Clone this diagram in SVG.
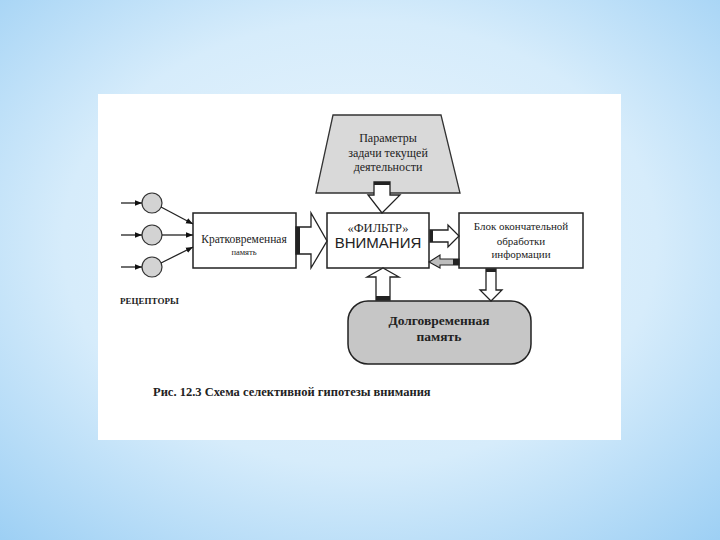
<svg xmlns="http://www.w3.org/2000/svg" width="720" height="540" viewBox="0 0 720 540">
<defs>
<radialGradient id="bg" cx="50%" cy="45%" r="75%">
<stop offset="0" stop-color="#eaf5fd"/>
<stop offset="0.55" stop-color="#d6ecfb"/>
<stop offset="1" stop-color="#9ccff4"/>
</radialGradient>
<marker id="ah" viewBox="0 0 10 10" refX="10" refY="5" markerWidth="7" markerHeight="7" orient="auto" markerUnits="userSpaceOnUse">
<path d="M0,1 L10,5 L0,9 Z" fill="#111"/>
</marker>
<style>
.box{fill:#fff;stroke:#222;stroke-width:1.5}
.blk{fill:#fff;stroke:#222;stroke-width:1.3}
.band{fill:#222}
.serif{font-family:"Liberation Serif","DejaVu Serif",serif;fill:#222}
.sans{font-family:"Liberation Sans","DejaVu Sans",sans-serif;fill:#222}
.line{stroke:#222;stroke-width:1.3;fill:none}
</style>
</defs>
<rect x="0" y="0" width="720" height="540" fill="url(#bg)"/>
<rect x="98" y="94" width="523" height="346" fill="#fff"/>

<g id="params">
<polygon points="333,115 441,115 460,193 316,193" fill="#d9d9d9" stroke="#333" stroke-width="1.3"/>
<text class="serif" x="388" y="142" font-size="12" text-anchor="middle">Параметры</text>
<text class="serif" x="388" y="157" font-size="12" text-anchor="middle">задачи текущей</text>
<text class="serif" x="388" y="171" font-size="12" text-anchor="middle">деятельности</text>
</g>

<g id="receptors">
<circle cx="152" cy="203" r="10" fill="#d3d3d3" stroke="#333" stroke-width="1.2"/>
<circle cx="152" cy="235" r="10" fill="#d3d3d3" stroke="#333" stroke-width="1.2"/>
<circle cx="152" cy="267" r="10" fill="#d3d3d3" stroke="#333" stroke-width="1.2"/>
<text class="serif" x="120" y="304" font-size="9" font-weight="bold">РЕЦЕПТОРЫ</text>
</g>

<g id="stm">
<rect class="box" x="193" y="213" width="103" height="55"/>
<text class="serif" x="244" y="243" font-size="11.5" text-anchor="middle">Кратковременная</text>
<text class="serif" x="244" y="255" font-size="8.5" text-anchor="middle">память</text>
</g>

<g id="filter">
<rect class="box" x="327" y="213" width="102" height="55"/>
<text class="serif" x="378" y="232" font-size="12.5" text-anchor="middle">«ФИЛЬТР»</text>
<text class="sans" x="378" y="248" font-size="15" text-anchor="middle">ВНИМАНИЯ</text>
</g>

<g id="final">
<rect class="box" x="459" y="213" width="124" height="55"/>
<text class="serif" x="521" y="230" font-size="11" text-anchor="middle">Блок окончательной</text>
<text class="serif" x="521" y="245" font-size="11" text-anchor="middle">обработки</text>
<text class="serif" x="521" y="258" font-size="11" text-anchor="middle">информации</text>
</g>

<g id="ltm">
<rect x="348" y="301" width="183" height="63" rx="20" ry="20" fill="#c6c6c6" stroke="#222" stroke-width="1.5"/>
<text class="serif" x="439" y="325" font-size="13.5" font-weight="bold" text-anchor="middle">Долговременная</text>
<text class="serif" x="439" y="341" font-size="13.5" font-weight="bold" text-anchor="middle">память</text>
</g>

<g id="connectors">
<line class="line" x1="121" y1="203" x2="142" y2="203" marker-end="url(#ah)"/>
<line class="line" x1="121" y1="235" x2="142" y2="235" marker-end="url(#ah)"/>
<line class="line" x1="121" y1="267" x2="142" y2="267" marker-end="url(#ah)"/>
<line class="line" x1="161" y1="207" x2="193" y2="224" marker-end="url(#ah)"/>
<line class="line" x1="162" y1="235" x2="193" y2="235" marker-end="url(#ah)"/>
<line class="line" x1="161" y1="263" x2="193" y2="247" marker-end="url(#ah)"/>

<!-- params -> filter -->
<polygon class="blk" points="374,182 390,182 390,195 400,195 382,213 368,195 374,195"/>
<rect class="band" x="374" y="182" width="16" height="3"/>
<!-- stm -> filter -->
<polygon class="blk" points="296,227 311,227 311,213 327,241 311,268 311,254 296,254"/>
<rect class="band" x="296" y="227" width="4" height="27"/>
<!-- filter -> final -->
<polygon class="blk" points="430,230 448,230 448,225 459,236 448,247 448,242 430,242"/>
<rect class="band" x="430" y="230" width="3" height="12"/>
<!-- final -> filter -->
<polygon points="459,259 440,259 440,255 429,262 440,268 440,265 459,265" fill="#bdbdbd" stroke="#222" stroke-width="1.1"/>
<rect class="band" x="453" y="259" width="6" height="6"/>
<!-- ltm -> filter -->
<polygon class="blk" points="376,300 376,277 367,277 383,268 399,277 390,277 390,300"/>
<rect class="band" x="376" y="296" width="14" height="4"/>
<!-- final -> ltm -->
<polygon class="blk" points="486,269 496,269 496,290 502,290 491,301 480,290 486,290"/>
<rect class="band" x="486" y="269" width="10" height="3"/>
</g>

<text class="serif" x="153" y="396" font-size="12.5" font-weight="bold">Рис. 12.3 Схема селективной гипотезы внимания</text>
</svg>
